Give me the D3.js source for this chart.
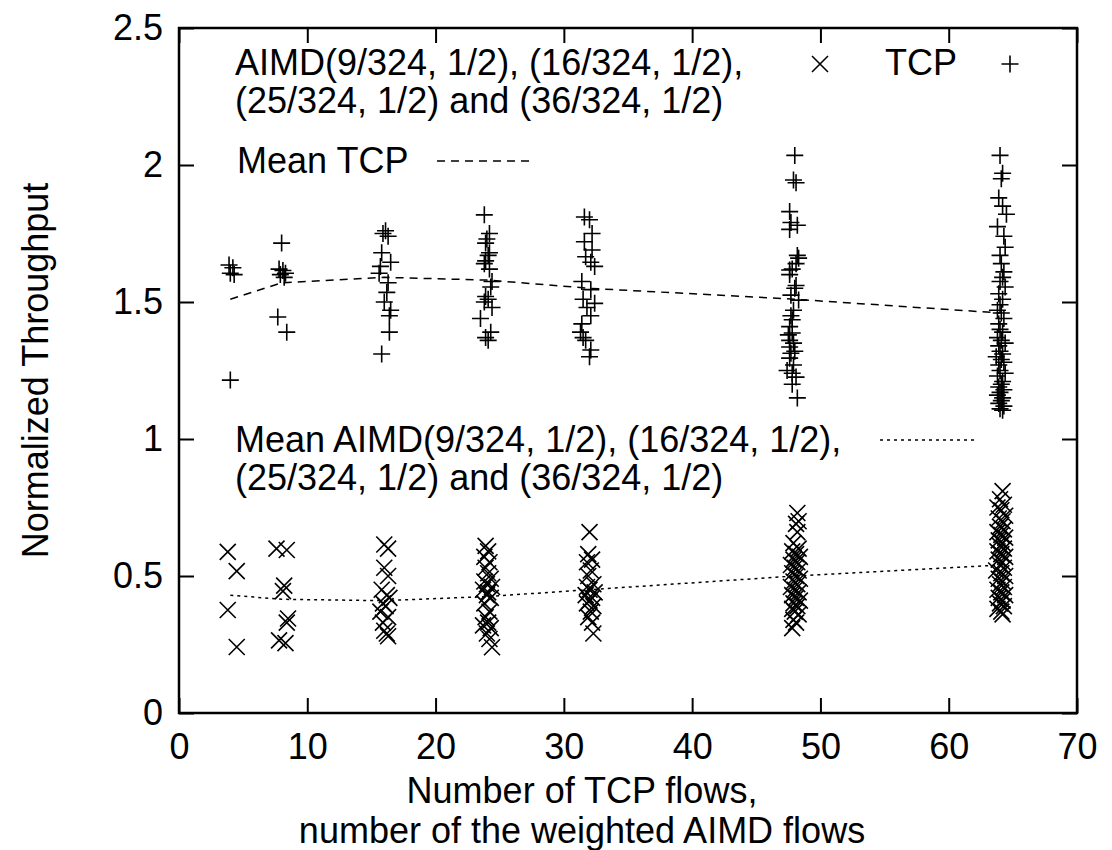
<!DOCTYPE html>
<html>
<head>
<meta charset="utf-8">
<script src="https://cdn.jsdelivr.net/npm/d3@7"></script>
<style>
  body { margin: 0; background: #fff; }
  text { font-family: "Liberation Sans", Arial, Helvetica, sans-serif; fill: #000; }
</style>
</head>
<body>
<div id="chart"></div>
<script>
// Weighted AIMD vs TCP, normalized throughput per flow

const xTicks = [0, 10, 20, 30, 40, 50, 60, 70];
const yTicks = [0, 0.5, 1, 1.5, 2, 2.5];
const yTickLabels = ["0", "0.5", "1", "1.5", "2", "2.5"];

// TCP flows: [number of flows (jittered), normalized throughput]
const tcp4 = [[3.9, 1.635], [4.2, 1.625], [4.0, 1.605], [4.3, 1.6], [4.0, 1.215]];
const tcp8 = [[8.0, 1.715], [7.8, 1.62], [8.1, 1.615], [8.3, 1.605], [7.9, 1.6], [8.2, 1.59], [7.7, 1.445], [8.4, 1.39]];
const tcp16 = [[16.1, 1.76], [15.9, 1.75], [16.3, 1.74], [15.8, 1.68], [16.5, 1.645], [15.7, 1.63], [15.6, 1.605],
  [16.3, 1.57], [16.2, 1.535], [16.0, 1.5], [16.5, 1.47], [16.4, 1.45], [16.4, 1.39], [15.8, 1.31]];
const tcp24 = [[23.8, 1.818], [24.2, 1.75], [24.0, 1.73], [23.9, 1.715], [24.2, 1.68], [24.1, 1.67], [23.9, 1.65],
  [23.8, 1.64], [24.2, 1.62], [24.4, 1.575], [24.3, 1.555], [23.9, 1.52], [24.1, 1.51], [23.8, 1.5], [24.4, 1.48],
  [23.5, 1.44], [24.3, 1.39], [23.9, 1.37], [24.1, 1.36]];
const tcp32 = [[31.6, 1.81], [32.0, 1.8], [32.2, 1.75], [31.6, 1.72], [32.2, 1.69], [31.7, 1.665], [32.1, 1.645],
  [32.4, 1.63], [31.4, 1.575], [32.1, 1.545], [31.5, 1.51], [32.4, 1.495], [31.8, 1.48], [32.1, 1.45], [31.4, 1.42],
  [31.3, 1.39], [31.5, 1.37], [31.7, 1.36], [32.1, 1.325], [32.0, 1.3]];
const tcp48 = [[48.0, 2.035], [47.9, 1.945], [48.1, 1.935], [47.6, 1.83], [47.7, 1.79], [48.2, 1.78], [47.6, 1.765],
  [48.2, 1.67], [48.3, 1.66], [48.1, 1.64], [47.6, 1.617], [47.8, 1.62], [47.6, 1.6], [48.1, 1.56], [48.0, 1.55],
  [47.7, 1.525], [48.3, 1.507], [47.9, 1.47], [47.7, 1.45], [47.8, 1.435], [47.6, 1.41], [47.8, 1.387], [47.5, 1.38],
  [47.6, 1.36], [47.9, 1.35], [47.6, 1.336], [48.0, 1.32], [47.7, 1.313], [47.6, 1.295], [47.9, 1.27], [47.4, 1.25],
  [47.8, 1.24], [48.1, 1.226], [47.8, 1.2], [48.2, 1.15]];
const tcp64 = [[64.0, 2.035], [64.2, 1.97], [64.1, 1.95], [63.9, 1.88], [64.2, 1.85], [64.5, 1.82], [63.8, 1.775],
  [64.3, 1.74], [64.4, 1.7], [64.0, 1.67], [64.1, 1.64], [64.3, 1.61], [64.2, 1.59], [64.0, 1.575], [64.4, 1.555],
  [63.9, 1.53], [64.2, 1.51], [64.0, 1.49], [63.8, 1.47], [64.1, 1.46], [64.3, 1.44], [63.9, 1.42], [64.0, 1.4],
  [64.2, 1.39], [63.8, 1.37], [64.1, 1.36], [64.4, 1.35], [63.9, 1.34], [64.0, 1.32], [64.2, 1.31], [63.7, 1.3],
  [64.1, 1.29], [64.3, 1.28], [63.9, 1.27], [64.0, 1.25], [64.4, 1.24], [63.8, 1.23], [64.2, 1.21], [64.1, 1.2],
  [63.9, 1.19], [64.3, 1.18], [64.0, 1.17], [63.8, 1.16], [64.2, 1.15], [64.1, 1.14], [63.9, 1.13], [64.3, 1.12],
  [64.0, 1.11], [64.2, 1.105]];

// weighted AIMD flows
const aimd4 = [[3.8, 0.588], [4.5, 0.518], [3.8, 0.376], [4.5, 0.241]];
const aimd8 = [[7.6, 0.6], [8.4, 0.595], [8.2, 0.465], [8.1, 0.445], [8.5, 0.345], [8.4, 0.33], [7.8, 0.265], [8.3, 0.255]];
const aimd16 = [[16.0, 0.615], [16.3, 0.6], [16.0, 0.53], [16.3, 0.5], [15.8, 0.45], [16.2, 0.43], [16.4, 0.42],
  [15.9, 0.4], [16.1, 0.39], [15.7, 0.37], [16.3, 0.35], [15.9, 0.33], [16.0, 0.3], [16.2, 0.29], [16.3, 0.28]];
const aimd24 = [[23.9, 0.61], [24.1, 0.59], [23.8, 0.57], [24.2, 0.55], [23.9, 0.53], [24.1, 0.51], [24.3, 0.49],
  [23.8, 0.48], [24.0, 0.47], [24.4, 0.46], [23.7, 0.45], [24.1, 0.44], [24.0, 0.43], [24.3, 0.42], [23.8, 0.4],
  [24.2, 0.37], [23.9, 0.35], [24.1, 0.33], [23.7, 0.32], [24.3, 0.31], [24.0, 0.29], [24.2, 0.27], [24.4, 0.24]];
const aimd32 = [[32.0, 0.66], [31.9, 0.58], [32.2, 0.56], [31.8, 0.55], [32.1, 0.52], [31.9, 0.5], [32.3, 0.47],
  [31.8, 0.46], [32.0, 0.45], [32.4, 0.44], [31.7, 0.43], [32.2, 0.42], [32.0, 0.41], [31.8, 0.4], [32.3, 0.39],
  [32.1, 0.37], [31.9, 0.35], [32.2, 0.33], [32.3, 0.29]];
const aimd48 = [[48.2, 0.73], [48.3, 0.7], [48.1, 0.69], [48.2, 0.66], [47.9, 0.62], [48.3, 0.6], [47.8, 0.59],
  [48.1, 0.58], [48.4, 0.57], [47.9, 0.56], [48.2, 0.55], [47.7, 0.54], [48.0, 0.53], [48.3, 0.52], [47.8, 0.51],
  [48.1, 0.5], [48.4, 0.49], [47.9, 0.48], [48.2, 0.47], [47.7, 0.46], [48.0, 0.45], [48.3, 0.44], [47.8, 0.43],
  [48.1, 0.42], [48.4, 0.41], [47.9, 0.4], [48.2, 0.39], [47.8, 0.38], [48.0, 0.37], [48.3, 0.36], [47.9, 0.34],
  [48.1, 0.33], [47.8, 0.31]];
const aimd64 = [[64.2, 0.81], [64.0, 0.78], [64.3, 0.76], [63.8, 0.75], [64.1, 0.74], [64.4, 0.72], [63.9, 0.71],
  [64.2, 0.7], [64.0, 0.68], [64.3, 0.67], [63.8, 0.66], [64.1, 0.65], [64.4, 0.64], [63.9, 0.63], [64.2, 0.62],
  [64.0, 0.61], [64.3, 0.6], [63.8, 0.59], [64.1, 0.58], [64.4, 0.57], [63.9, 0.56], [64.2, 0.55], [64.0, 0.54],
  [64.3, 0.53], [63.7, 0.52], [64.1, 0.51], [64.4, 0.5], [63.9, 0.49], [64.2, 0.48], [64.0, 0.47], [64.3, 0.46],
  [63.8, 0.45], [64.1, 0.44], [64.4, 0.43], [63.9, 0.42], [64.2, 0.41], [64.0, 0.4], [64.3, 0.39], [63.8, 0.38],
  [64.1, 0.37], [64.2, 0.36]];

// means per flow count
const meanX = [4, 8, 16, 24, 32, 48, 64];
const meanTcp = [1.51, 1.57, 1.59, 1.58, 1.55, 1.51, 1.46];
const meanAimd = [0.43, 0.415, 0.41, 0.425, 0.45, 0.5, 0.54];

const tcpPoints = [].concat(tcp4, tcp8, tcp16, tcp24, tcp32, tcp48, tcp64);
const aimdPoints = [].concat(aimd4, aimd8, aimd16, aimd24, aimd32, aimd48, aimd64);

const width = 1112;
const height = 850;
const marginLeft = 179;
const marginRight = 35;
const marginTop = 28;
const marginBottom = 137;
const fontSize = 36;
const tickLen = 15;

const svg = d3.select("#chart").append("svg")
    .attr("width", width)
    .attr("height", height)
    .attr("viewBox", [0, 0, width, height]);

svg.append("rect").attr("width", width).attr("height", height).attr("fill", "#fff");

const x = d3.scaleLinear().domain([0, 70]).range([marginLeft, width - marginRight]);
const y = d3.scaleLinear().domain([0, 2.5]).range([height - marginBottom, marginTop]);

// axes, ticks pointing inward on all four sides
const styleAxis = g => {
  g.select(".domain").remove();
  g.selectAll(".tick line").attr("stroke", "#000").attr("stroke-width", 2);
  g.selectAll("text").attr("font-size", fontSize).attr("font-family", null);
};

svg.append("g")
    .attr("transform", `translate(0,${y(0)})`)
    .call(d3.axisBottom(x).tickValues(xTicks).tickFormat(d3.format("d")).tickSizeInner(-tickLen).tickSizeOuter(0).tickPadding(20))
    .call(styleAxis);

svg.append("g")
    .attr("transform", `translate(0,${y(2.5)})`)
    .call(d3.axisTop(x).tickValues(xTicks).tickFormat("").tickSizeInner(-tickLen).tickSizeOuter(0))
    .call(styleAxis);

svg.append("g")
    .attr("transform", `translate(${x(0)},0)`)
    .call(d3.axisLeft(y).tickValues(yTicks).tickFormat((d, i) => yTickLabels[i]).tickSizeInner(-tickLen).tickSizeOuter(0).tickPadding(16))
    .call(styleAxis);

svg.append("g")
    .attr("transform", `translate(${x(70)},0)`)
    .call(d3.axisRight(y).tickValues(yTicks).tickFormat("").tickSizeInner(-tickLen).tickSizeOuter(0))
    .call(styleAxis);

// frame
svg.append("rect")
    .attr("x", x(0)).attr("y", y(2.5))
    .attr("width", x(70) - x(0)).attr("height", y(0) - y(2.5))
    .attr("fill", "none").attr("stroke", "#000").attr("stroke-width", 2.5);

// axis titles
svg.append("text")
    .attr("transform", `translate(48,${(y(0) + y(2.5)) / 2}) rotate(-90)`)
    .attr("text-anchor", "middle")
    .attr("font-size", fontSize)
    .text("Normalized Throughput");

const xTitle = svg.append("text")
    .attr("text-anchor", "middle")
    .attr("font-size", fontSize);
xTitle.append("tspan").attr("x", 582).attr("y", 803).text("Number of TCP flows,");
xTitle.append("tspan").attr("x", 582).attr("y", 843).text("number of the weighted AIMD flows");

// markers
const plusPath = "M-8.5,0H8.5M0,-8.5V8.5";
const crossPath = "M-8,-8L8,8M8,-8L-8,8";

svg.append("g")
    .selectAll("path")
    .data(aimdPoints)
    .join("path")
    .attr("transform", d => `translate(${x(d[0])},${y(d[1])})`)
    .attr("d", crossPath)
    .attr("stroke", "#000").attr("stroke-width", 1.6).attr("fill", "none");

svg.append("g")
    .selectAll("path")
    .data(tcpPoints)
    .join("path")
    .attr("transform", d => `translate(${x(d[0])},${y(d[1])})`)
    .attr("d", plusPath)
    .attr("stroke", "#000").attr("stroke-width", 1.6).attr("fill", "none");

// mean lines
const meanLine = vals => d3.line()
    .x((d, i) => x(meanX[i]))
    .y(d => y(d))(vals);

svg.append("path")
    .attr("d", meanLine(meanTcp))
    .attr("fill", "none").attr("stroke", "#000").attr("stroke-width", 1.5)
    .attr("stroke-dasharray", "8,6");

svg.append("path")
    .attr("d", meanLine(meanAimd))
    .attr("fill", "none").attr("stroke", "#000").attr("stroke-width", 1.5)
    .attr("stroke-dasharray", "3,4");

// legend
const legend = svg.append("g").attr("font-size", fontSize);

const aimdKey = legend.append("text");
aimdKey.append("tspan").attr("x", 235).attr("y", 75).text("AIMD(9/324, 1/2), (16/324, 1/2),");
aimdKey.append("tspan").attr("x", 235).attr("y", 113).text("(25/324, 1/2) and (36/324, 1/2)");
legend.append("path").attr("transform", "translate(820,64)").attr("d", crossPath)
    .attr("stroke", "#000").attr("stroke-width", 1.6);

legend.append("text").attr("x", 885).attr("y", 75).text("TCP");
legend.append("path").attr("transform", "translate(1010,64)").attr("d", plusPath)
    .attr("stroke", "#000").attr("stroke-width", 1.6);

legend.append("text").attr("x", 237).attr("y", 173).text("Mean TCP");
legend.append("line").attr("x1", 437).attr("x2", 533).attr("y1", 161).attr("y2", 161)
    .attr("stroke", "#000").attr("stroke-width", 1.5).attr("stroke-dasharray", "8,6");

const meanAimdKey = legend.append("text");
meanAimdKey.append("tspan").attr("x", 235).attr("y", 452).text("Mean AIMD(9/324, 1/2), (16/324, 1/2),");
meanAimdKey.append("tspan").attr("x", 235).attr("y", 490).text("(25/324, 1/2) and (36/324, 1/2)");
legend.append("line").attr("x1", 880).attr("x2", 978).attr("y1", 440).attr("y2", 440)
    .attr("stroke", "#000").attr("stroke-width", 1.5).attr("stroke-dasharray", "3,4");
</script>
</body>
</html>
